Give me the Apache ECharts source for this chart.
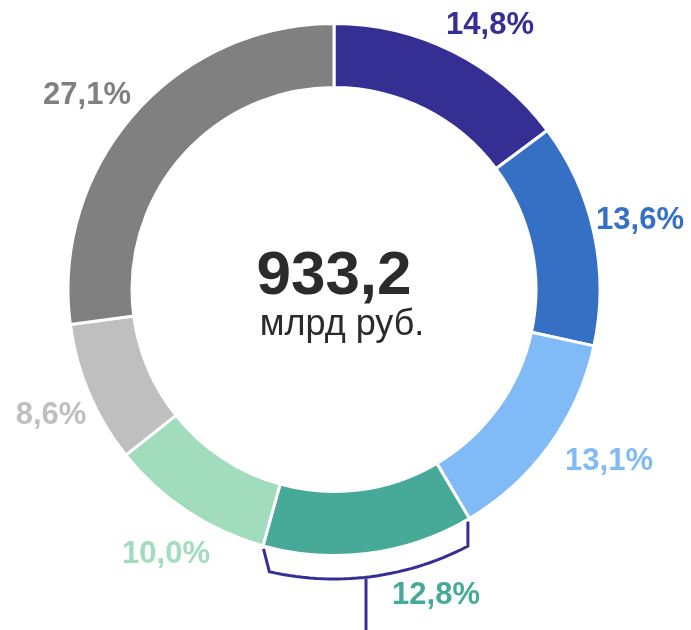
<!DOCTYPE html>
<html>
<head>
<meta charset="utf-8">
<script src="https://cdn.jsdelivr.net/npm/echarts@6/dist/echarts.min.js"></script>
<style>
  html, body { margin: 0; padding: 0; background: #fff; }
  #chart { width: 691px; height: 630px; }
</style>
</head>
<body>
<div id="chart"></div>
<script>
const shares = [14.8, 13.6, 13.1, 12.8, 10.0, 8.6, 27.1];
const shareLabels = ["14,8%", "13,6%", "13,1%", "12,8%", "10,0%", "8,6%", "27,1%"];
const colors = ["#352f94", "#3570c4", "#80bbf8", "#47aa98", "#a1ddbd", "#bfbfbf", "#808080"];
const totalValue = "933,2";
const totalUnit = "млрд руб.";
const bracketIndex = 3;

// layout
const cx = 334, cy = 289.5;
const rIn = 202, rOut = 266;
const labelAnchors = [[490, 24], [640, 219], [609, 460], [436, 594], [166, 553], [51, 414], [87, 94]];
const font = "'Liberation Sans', Arial, sans-serif";

const sum = shares.reduce((a, b) => a + b, 0);
const cum = [];
shares.reduce((acc, v, i) => { cum[i] = acc; return acc + v; }, 0);

// angle clockwise from 12 o'clock, radians
const frac2ang = (f) => f / sum * Math.PI * 2;

// bracket under the highlighted slice
function bracketPoints() {
  const a0 = frac2ang(cum[bracketIndex]);
  const a1 = frac2ang(cum[bracketIndex] + shares[bracketIndex]);
  const rb = 289.5;
  const pts = [];
  const xr = cx + rOut * Math.sin(a0) - 1.5;
  const yr = cy - rOut * Math.cos(a0);
  pts.push([xr, yr + 3]);
  const yArcR = cy + Math.sqrt(rb * rb - (xr - cx) * (xr - cx));
  pts.push([xr, yArcR]);
  const startA = Math.atan2(yArcR - cy, xr - cx);
  const endA = a1 - 0.045 - Math.PI / 2;
  const n = 30;
  for (let k = 1; k <= n; k++) {
    const t = startA + (endA - startA) * k / n;
    pts.push([cx + rb * Math.cos(t), cy + rb * Math.sin(t)]);
  }
  pts.push([cx + rOut * Math.sin(a1) + 0.5, cy - rOut * Math.cos(a1) + 3]);
  return pts;
}

const chart = echarts.init(document.getElementById("chart"), null, { renderer: "canvas" });

const option = {
  animation: false,
  series: [{
    type: "pie",
    center: [cx, cy],
    radius: [rIn, rOut],
    startAngle: 90,
    clockwise: true,
    silent: true,
    data: shares.map((v, i) => ({
      value: v,
      itemStyle: { color: colors[i] },
      label: { color: colors[i] }
    })),
    itemStyle: { borderColor: "#fff", borderWidth: 3 },
    label: {
      show: true,
      position: "inside",
      formatter: (p) => shareLabels[p.dataIndex],
      fontFamily: font,
      fontWeight: "bold",
      fontSize: 31,
      overflow: "none"
    },
    labelLine: { show: false },
    labelLayout: (p) => {
      const [x, y] = labelAnchors[p.dataIndex];
      return { x, y: y + 1, align: "center", verticalAlign: "middle" };
    }
  }],
  graphic: [
    {
      type: "text", x: cx, y: 277,
      style: { text: totalValue, fill: "#2b2b2e", font: "bold 62px " + font, align: "center", verticalAlign: "middle" }
    },
    {
      type: "text", x: cx + 8, y: 325,
      style: { text: totalUnit, fill: "#2b2b2e", font: "36px " + font, align: "center", verticalAlign: "middle" }
    },
    {
      type: "polyline",
      shape: { points: bracketPoints() },
      style: { stroke: "#352f94", lineWidth: 3, fill: null }
    },
    {
      type: "line",
      shape: { x1: 366, y1: 579, x2: 366, y2: 630 },
      style: { stroke: "#352f94", lineWidth: 3 }
    }
  ]
};

chart.setOption(option);
window.addEventListener("resize", () => chart.resize());
</script>
</body>
</html>
